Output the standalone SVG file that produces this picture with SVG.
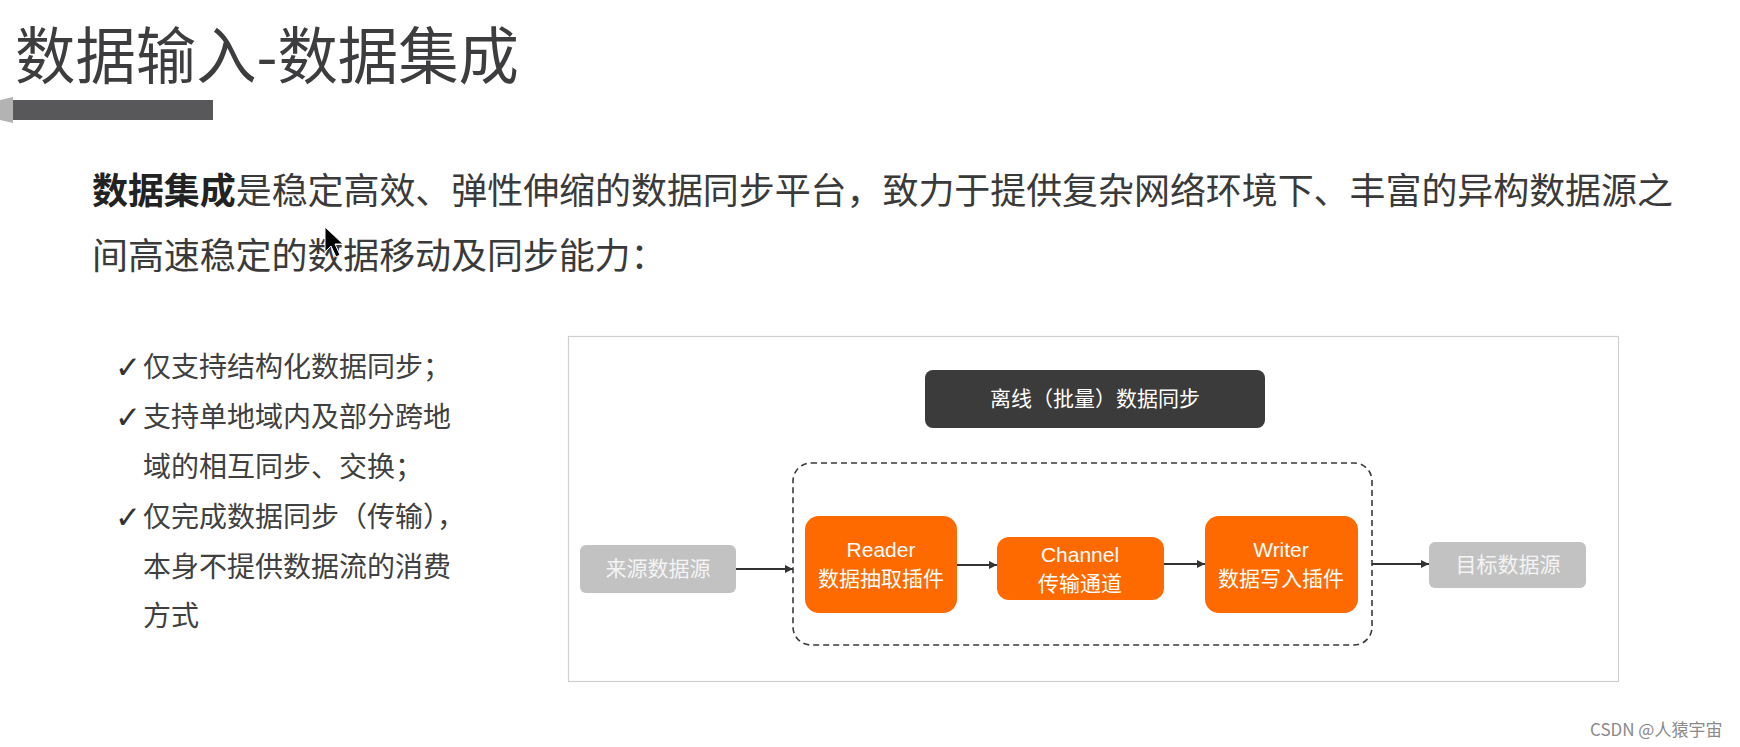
<svg xmlns="http://www.w3.org/2000/svg" width="1740" height="747" viewBox="0 0 1740 747">
<defs>
<style>
.cjk{font-family:"Noto Sans CJK SC","Noto Sans",sans-serif;}
.lat{font-family:"Liberation Sans","Noto Sans CJK SC",sans-serif;}
.title{font-size:62px;fill:#3d3d3f;}
.body{font-size:36px;fill:#3a3a3a;}
.list{font-size:28px;fill:#404040;}
.chk{font-family:"DejaVu Sans",sans-serif;font-size:31px;fill:#333;}
.lbl{font-size:21px;fill:#fff;text-anchor:middle;}
.glbl{font-size:21px;fill:#f4f4f4;text-anchor:middle;}
.orange{fill:#ff6a00;}
.gray{fill:#c2c2c2;}
.conn{stroke:#333;stroke-width:2;fill:none;marker-end:url(#arr);}
</style>
<marker id="arr" markerUnits="userSpaceOnUse" markerWidth="9" markerHeight="9" refX="8" refY="4" orient="auto">
<path d="M0,0 L8,4 L0,8 z" fill="#333"/>
</marker>
</defs>
<rect width="1740" height="747" fill="#fff"/>

<g id="header">
<text class="cjk title" x="15" y="79" textLength="504" lengthAdjust="spacingAndGlyphs">数据输入-数据集成</text>
<polygon points="0,100 13,97 13,123 0,120" fill="#b3b3b3"/>
<rect x="13" y="100" width="200" height="20" fill="#58585a"/>
</g>

<g id="intro">
<text class="cjk body" x="92" y="204" textLength="1581"><tspan font-weight="bold" fill="#222">数据集成</tspan>是稳定高效、弹性伸缩的数据同步平台，致力于提供复杂网络环境下、丰富的异构数据源之</text>
<text class="cjk body" x="92" y="269" letter-spacing="-0.1">间高速稳定的数据移动及同步能力：</text>
</g>

<g id="cursor">
<polygon points="325,227 325,252 331,246 336,257 340,255 335,244 343,244" fill="#000" stroke="#fff" stroke-width="1"/>
</g>

<g id="list">
<text class="chk" x="115" y="378">✓</text>
<text class="cjk list" x="143" y="377">仅支持结构化数据同步；</text>
<text class="chk" x="115" y="428">✓</text>
<text class="cjk list" x="143" y="427">支持单地域内及部分跨地</text>
<text class="cjk list" x="143" y="477">域的相互同步、交换；</text>
<text class="chk" x="115" y="528">✓</text>
<text class="cjk list" x="143" y="527">仅完成数据同步（传输），</text>
<text class="cjk list" x="143" y="577">本身不提供数据流的消费</text>
<text class="cjk list" x="143" y="626">方式</text>
</g>

<g id="panel">
<rect x="568.5" y="336.5" width="1050" height="345" fill="#fff" stroke="#cfcfcf" stroke-width="1.2"/>
</g>

<g id="header-box">
<rect x="925" y="370" width="340" height="58" rx="8" fill="#3b3b3b"/>
<text class="cjk lbl" x="1095" y="406">离线（批量）数据同步</text>
</g>

<g id="container">
<rect x="793" y="463" width="579" height="182" rx="18" fill="none" stroke="#3a3a3a" stroke-width="1.6" stroke-dasharray="6 4"/>
</g>

<g id="source">
<rect class="gray" x="580" y="545" width="156" height="48" rx="6"/>
<text class="cjk glbl" x="658" y="576">来源数据源</text>
</g>

<g id="reader">
<rect class="orange" x="805" y="516" width="152" height="97" rx="14"/>
<text class="lat lbl" x="881" y="557">Reader</text>
<text class="cjk lbl" x="881" y="586">数据抽取插件</text>
</g>

<g id="channel">
<rect class="orange" x="997" y="537" width="167" height="63" rx="12"/>
<text class="lat lbl" x="1080" y="562">Channel</text>
<text class="cjk lbl" x="1080" y="591">传输通道</text>
</g>

<g id="writer">
<rect class="orange" x="1205" y="516" width="153" height="97" rx="14"/>
<text class="lat lbl" x="1281" y="557">Writer</text>
<text class="cjk lbl" x="1281" y="586">数据写入插件</text>
</g>

<g id="target">
<rect class="gray" x="1429" y="542" width="157" height="46" rx="6"/>
<text class="cjk glbl" x="1508" y="572">目标数据源</text>
</g>

<g id="connectors">
<line class="conn" x1="736" y1="569" x2="793" y2="569"/>
<line class="conn" x1="957" y1="565" x2="997" y2="565"/>
<line class="conn" x1="1164" y1="564" x2="1205" y2="564"/>
<line class="conn" x1="1372" y1="564" x2="1429" y2="564"/>
</g>

<g id="watermark">
<text class="cjk" x="1590" y="736" font-size="17" fill="#8a8a8a">CSDN @人猿宇宙</text>
</g>
</svg>
